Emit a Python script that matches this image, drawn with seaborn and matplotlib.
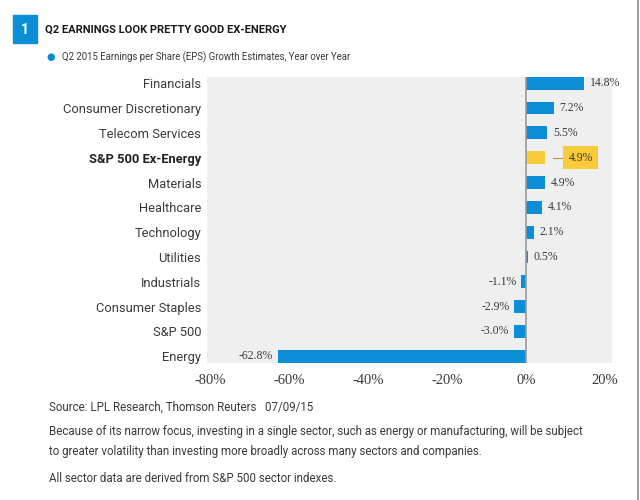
import numpy as np
import pandas as pd
import matplotlib.pyplot as plt
import seaborn as sns

# data
sectors = ["Financials", "Consumer Discretionary", "Telecom Services",
           "S&P 500 Ex-Energy", "Materials", "Healthcare", "Technology",
           "Utilities", "Industrials", "Consumer Staples", "S&P 500", "Energy"]
growth = [14.8, 7.2, 5.5, 4.9, 4.9, 4.1, 2.1, 0.5, -1.1, -2.9, -3.0, -62.8]
highlight = "S&P 500 Ex-Energy"
xticks = [-80, -60, -40, -20, 0, 20]

BLUE = "#0a8fd6"
YELLOW = "#f7cb3a"
GRAY_BG = "#efefef"
TEXT = "#3a3a3a"

sns.set_theme(style="white")
sans = ["Roboto", "DejaVu Sans"]
serif = ["Liberation Serif", "DejaVu Serif"]
plt.rcParams["font.family"] = sans

df = pd.DataFrame({"sector": sectors, "growth": growth})
df["grp"] = np.where(df["sector"] == highlight, "hi", "lo")

fig = plt.figure(figsize=(6.4, 5), dpi=100)
ax = fig.add_axes([0.323, 0.274, 0.633, 0.572])
ax.set_facecolor(GRAY_BG)

sns.barplot(data=df, x="growth", y="sector", hue="grp",
            palette={"hi": YELLOW, "lo": BLUE}, dodge=False,
            width=0.52, legend=False, ax=ax, saturation=1, linewidth=0)

ax.set_xlim(-80.8, 21.8)
ax.set_ylim(11.27, -0.25)
ax.axvline(0, color="#9a9a9a", lw=1.2, zorder=3)
for s in ax.spines.values():
    s.set_visible(False)

ax.set_xticks(xticks)
ax.set_xticklabels([f"{t}%" for t in xticks], family=serif, fontsize=10.5, color=TEXT)
ax.tick_params(axis="x", length=0, pad=8)
ax.tick_params(axis="y", length=0, pad=4)
ax.set_xlabel("")
ax.set_ylabel("")
for lbl in ax.get_yticklabels():
    lbl.set_fontsize(9.3)
    lbl.set_color(TEXT)
    if lbl.get_text() == highlight:
        lbl.set_fontweight("bold")
        lbl.set_color("#222222")

# value labels
for i, v in enumerate(growth):
    txt = f"{v:.1f}%"
    if sectors[i] == highlight:
        ax.plot([v + 2.0, v + 4.6], [i, i], color="#b89a2a", lw=0.8, zorder=4)
        ax.text(v + 6.0, i, txt, ha="left", va="center", fontsize=8.5, family=serif,
                color=TEXT, zorder=5, clip_on=False,
                bbox=dict(boxstyle="square,pad=0.45", fc=YELLOW, ec="none"))
    elif v >= 0:
        ax.text(v + 1.4, i, txt, ha="left", va="center", fontsize=8.5,
                family=serif, color=TEXT, clip_on=False)
    else:
        ax.text(v - 1.2, i, txt, ha="right", va="center", fontsize=8.5,
                family=serif, color=TEXT, clip_on=False)

# header
fig.patches.append(plt.Rectangle((13 / 640, 1 - 43 / 500), 24 / 640, 28 / 500,
                                 transform=fig.transFigure, color=BLUE))
fig.text(25 / 640, 1 - 30 / 500, "1", color="white", fontsize=10, fontweight="bold",
         ha="center", va="center")
fig.text(45 / 640, 1 - 30 / 500, "Q2 EARNINGS LOOK PRETTY GOOD EX-ENERGY",
         fontsize=8.0, fontweight="bold", color="#1a1a1a", va="center")
fig.text(51 / 640, 1 - 57 / 500, "\u25cf", color=BLUE, fontsize=7, ha="center",
         va="center", family="DejaVu Sans")
fig.text(62 / 640, 1 - 57 / 500,
         "Q2 2015 Earnings per Share (EPS) Growth Estimates, Year over Year",
         fontsize=6.9, color=TEXT, va="center")

# footer
fs = 8.3
fig.text(49 / 640, 1 - 407 / 500, "Source: LPL Research, Thomson Reuters   07/09/15",
         fontsize=fs, color=TEXT, va="center")
fig.text(49 / 640, 1 - 432 / 500,
         "Because of its narrow focus, investing in a single sector, such as energy or manufacturing, will be subject",
         fontsize=fs, color=TEXT, va="center")
fig.text(49 / 640, 1 - 452 / 500,
         "to greater volatility than investing more broadly across many sectors and companies.",
         fontsize=fs, color=TEXT, va="center")
fig.text(49 / 640, 1 - 478 / 500, "All sector data are derived from S&P 500 sector indexes.",
         fontsize=fs, color=TEXT, va="center")

# right border line
fig.lines.append(plt.Line2D([638 / 640, 638 / 640], [0, 1], transform=fig.transFigure,
                            color="#8a8a8a", lw=1.2))

fig.savefig("out.png", dpi=100)
